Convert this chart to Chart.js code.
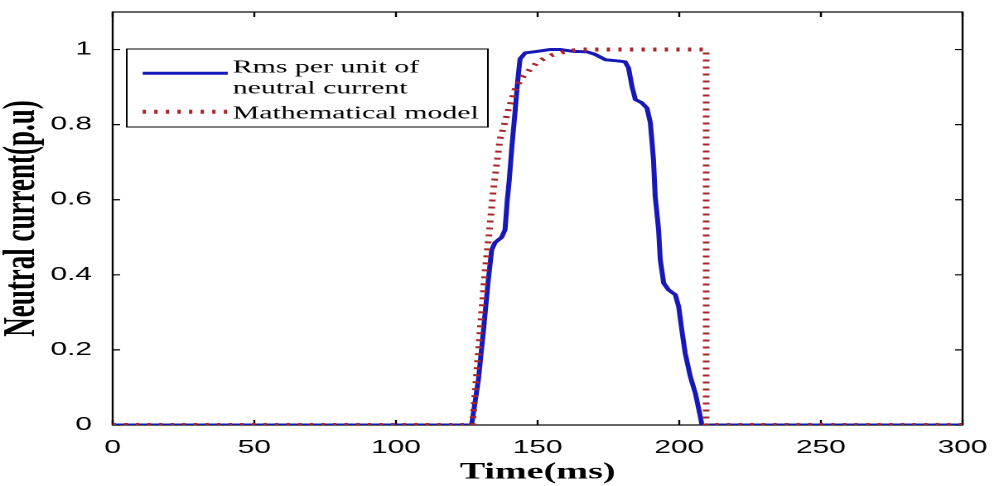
<!DOCTYPE html>
<html>
<head>
    <title>Neutral current</title>
    <script src="https://cdn.jsdelivr.net/npm/chart.js"></script>
    <style>
        body { margin: 0; background: #fff; }
        /* the original figure is a MATLAB plot stretched sideways, so draw narrow and stretch */
        #wrap {
            position: absolute; left: 0; top: 0;
            width: 600px; height: 486px;
            transform: scaleX(1.6567); transform-origin: 0 0;
        }
    </style>
</head>
<body>
    <div id="wrap"><canvas id="chart"></canvas></div>

    <script>
        // Data (time in ms, current in p.u.)
        const rmsTime = [0, 126.7, 129.1, 130.9, 132.6, 133.8, 135, 137.3, 138.5, 139.3, 140, 140.9, 142, 142.9,
            143.8, 145.6, 149.7, 154.4, 158, 162.7, 167.4, 170.3, 173.9, 179.2, 180.9, 182.1, 183.3, 184.5,
            186.8, 188.6, 189.8, 190.9, 191.5, 192.7, 193.3, 194.5, 196.2, 198.6, 199.8, 200.9, 202.1,
            203.9, 205.7, 207.2, 208, 300];
        const rmsPu = [0, 0, 0.12, 0.253, 0.387, 0.467, 0.486, 0.5, 0.52, 0.6, 0.653, 0.74, 0.831, 0.911,
            0.975, 0.991, 0.995, 1.0, 1.0, 0.995, 0.994, 0.987, 0.973, 0.969, 0.967, 0.951, 0.902, 0.867,
            0.858, 0.844, 0.805, 0.707, 0.609, 0.52, 0.44, 0.378, 0.36, 0.347, 0.315, 0.253, 0.191,
            0.129, 0.084, 0.031, 0, 0];

        const modelTime = [0, 127, 128.5, 129.9, 131.4, 132.6, 134.4, 136.7, 139.7, 142, 144.5, 147.3, 150.3,
            155, 160, 165, 209.5, 209.5, 300];
        const modelPu = [0, 0, 0.14, 0.27, 0.405, 0.49, 0.627, 0.76, 0.84, 0.893, 0.925, 0.947, 0.969,
            0.985, 0.995, 1, 1, 0, 0];

        const seriesLabels = [['Rms per unit of', 'neutral current'], ['Mathematical model']];
        const xTicks = [0, 50, 100, 150, 200, 250, 300];
        const yTicks = [0, 0.2, 0.4, 0.6, 0.8, 1];

        const toPoints = (xs, ys) => xs.map((x, i) => ({ x: x, y: ys[i] }));

        // box around the axes with inward ticks on all four sides
        const framePlugin = {
            id: 'frame',
            beforeDatasetsDraw(chart) {
                const { ctx, chartArea: a, scales } = chart;
                ctx.save();
                ctx.strokeStyle = '#000';
                ctx.lineWidth = 1.2;
                ctx.strokeRect(a.left, a.top, a.right - a.left, a.bottom - a.top);
                ctx.beginPath();
                scales.x.ticks.forEach(t => {
                    const px = scales.x.getPixelForValue(t.value);
                    ctx.moveTo(px, a.bottom); ctx.lineTo(px, a.bottom - 5);
                    ctx.moveTo(px, a.top); ctx.lineTo(px, a.top + 5);
                });
                scales.y.ticks.forEach(t => {
                    const py = scales.y.getPixelForValue(t.value);
                    ctx.moveTo(a.left, py); ctx.lineTo(a.left + 4.5, py);
                    ctx.moveTo(a.right, py); ctx.lineTo(a.right - 4.5, py);
                });
                ctx.stroke();
                ctx.restore();
            }
        };

        // legend box inside the plot, upper left
        const legendPlugin = {
            id: 'legendBox',
            afterDraw(chart) {
                const { ctx, chartArea: a } = chart;
                const ds = chart.data.datasets;
                const left = a.left + 8.5, top = a.top + 37;
                ctx.save();
                ctx.fillStyle = '#fff';
                ctx.fillRect(left, top, 218, 78);
                ctx.strokeStyle = '#000';
                ctx.lineWidth = 1;
                ctx.strokeRect(left, top, 218, 78);

                const sampleY = [top + 24.3, top + 62.7];
                const baselines = [[top + 23.7, top + 44.3], [top + 69.3]];
                ds.forEach((d, i) => {
                    ctx.beginPath();
                    ctx.strokeStyle = d.borderColor;
                    ctx.lineWidth = d.borderWidth;
                    ctx.setLineDash(d.borderDash || []);
                    ctx.moveTo(left + 9.6, sampleY[i]);
                    ctx.lineTo(left + 61, sampleY[i]);
                    ctx.stroke();
                    ctx.setLineDash([]);
                    ctx.fillStyle = '#000';
                    ctx.font = "18px 'Liberation Serif'";
                    ctx.textBaseline = 'alphabetic';
                    seriesLabels[i].forEach((line, j) => {
                        ctx.fillText(line, left + 64, baselines[i][j]);
                    });
                });
                ctx.restore();
            }
        };

        const ctx = document.getElementById('chart').getContext('2d');
        const chart = new Chart(ctx, {
            type: 'line',
            data: {
                datasets: [
                    {
                        label: seriesLabels[0].join(' '),
                        data: toPoints(rmsTime, rmsPu),
                        borderColor: '#1818b8',
                        borderWidth: 3,
                        order: 1
                    },
                    {
                        label: seriesLabels[1].join(' '),
                        data: toPoints(modelTime, modelPu),
                        borderColor: '#a8262a',
                        borderWidth: 4,
                        borderDash: [2, 5],
                        order: 0
                    }
                ]
            },
            options: {
                responsive: true,
                maintainAspectRatio: false,
                devicePixelRatio: 2,
                animation: false,
                layout: { padding: { top: 12, right: 19, left: 0, bottom: 0 } },
                elements: {
                    point: { radius: 0 },
                    line: { tension: 0, fill: false }
                },
                plugins: {
                    legend: { display: false },
                    tooltip: { enabled: false }
                },
                scales: {
                    x: {
                        type: 'linear',
                        min: 0, max: 300,
                        afterBuildTicks: s => { s.ticks = xTicks.map(v => ({ value: v })); },
                        afterFit: s => { s.height = 61; s.paddingLeft = 0; s.paddingRight = 0; },
                        grid: { display: false, drawTicks: false },
                        border: { display: false },
                        ticks: {
                            color: '#000',
                            padding: 12,
                            maxRotation: 0,
                            font: { family: "'Liberation Sans'", size: 18 },
                            callback: v => String(v)
                        },
                        title: {
                            display: true,
                            text: 'Time(ms)',
                            color: '#000',
                            font: { family: "'Liberation Serif'", size: 23, weight: 'bold', lineHeight: 1 },
                            padding: { top: 0, bottom: 2 }
                        }
                    },
                    y: {
                        min: 0, max: 1.1,
                        afterBuildTicks: s => { s.ticks = yTicks.map(v => ({ value: v })); },
                        afterFit: s => { s.width = 68; s.paddingTop = 0; s.paddingBottom = 0; },
                        grid: { display: false, drawTicks: false },
                        border: { display: false },
                        ticks: {
                            color: '#000',
                            padding: 12.5,
                            font: { family: "'Liberation Sans'", size: 18 },
                            callback: v => String(Number(v.toFixed(1)))
                        },
                        title: {
                            display: true,
                            text: 'Neutral current(p.u)',
                            color: '#000',
                            font: { family: "'Liberation Serif'", size: 27, weight: 'bold', lineHeight: 1 },
                            padding: { top: 0, bottom: 0 }
                        }
                    }
                }
            },
            plugins: [framePlugin, legendPlugin]
        });
    </script>
</body>
</html>
